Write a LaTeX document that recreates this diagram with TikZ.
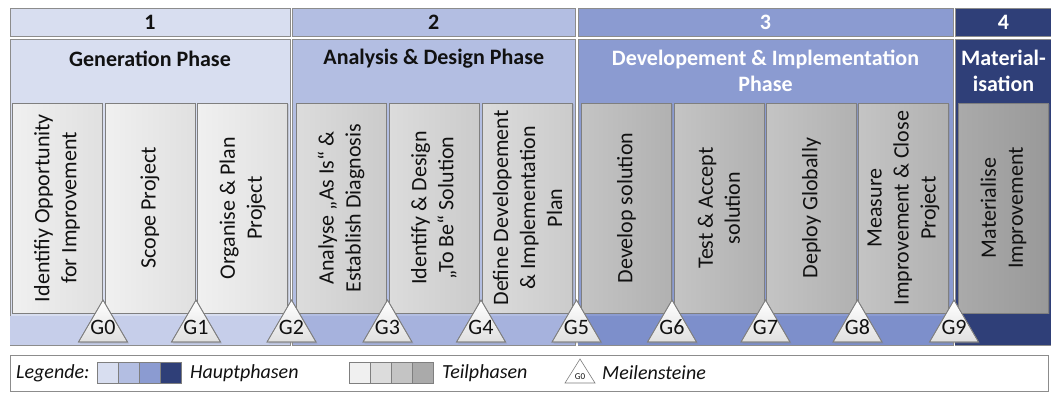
\documentclass[tikz,border=0pt]{standalone}
\usepackage{fontspec}
\setmainfont{Carlito}
\usetikzlibrary{shadows}
\definecolor{pa}{HTML}{D8DEF0}
\definecolor{pb}{HTML}{B3BEE2}
\definecolor{pc}{HTML}{8B9BD1}
\definecolor{pd}{HTML}{2F3F78}
\definecolor{pas}{HTML}{C6CEEA}
\definecolor{pbs}{HTML}{A6B2DD}
\definecolor{pcs}{HTML}{7D8FCB}
\definecolor{pds}{HTML}{2F3F78}
\definecolor{bgray}{HTML}{8C8C8C}
\definecolor{sgray}{HTML}{7F7F7F}
\definecolor{saL}{HTML}{F0F0F0}
\definecolor{saR}{HTML}{E0E0E0}
\definecolor{sbL}{HTML}{DCDCDC}
\definecolor{sbR}{HTML}{CBCBCB}
\definecolor{scL}{HTML}{C4C4C4}
\definecolor{scR}{HTML}{B1B1B1}
\definecolor{sdL}{HTML}{AAAAAA}
\definecolor{sdR}{HTML}{999999}
\definecolor{txt}{HTML}{111111}
\tikzset{
  colbox/.style={draw=bgray, line width=0.7pt},
  subbox/.style={draw=sgray, line width=0.7pt, minimum width=90pt, minimum height=210pt, inner sep=0pt,
    drop shadow={shadow xshift=1.2pt, shadow yshift=-1.2pt, opacity=0.25}},
  subtext/.style={rotate=90, align=center, inner sep=0pt, text=txt, font=\fontsize{22}{27}\selectfont},
  numtext/.style={font=\bfseries\fontsize{22}{26}\selectfont, inner sep=0pt},
  headtext/.style={font=\bfseries\fontsize{22}{26}\selectfont, align=center, inner sep=0pt},
  tri/.style={draw=sgray, line width=0.7pt, top color=white, bottom color=saR,
    drop shadow={shadow xshift=1.5pt, shadow yshift=-1.5pt, opacity=0.25}},
  trilabel/.style={font=\fontsize{22}{26}\selectfont, inner sep=0pt, text=txt},
  legtext/.style={font=\itshape\fontsize{20}{24}\selectfont, inner sep=0pt, anchor=west, text=txt},
  legsq/.style={draw=sgray, line width=0.7pt}
}
\begin{document}
\begin{tikzpicture}[x=1pt,y=-1pt]
\useasboundingbox[fill=white] (0,0) rectangle (1051,392);

% ---- number row ----
\draw[colbox, fill=pa] (10,8) rectangle (290,36);
\draw[colbox, fill=pb] (292.5,8) rectangle (575,36);
\draw[colbox, fill=pc] (578,8) rectangle (953,36);
\draw[colbox, fill=pd] (955,8) rectangle (1053,36);
\node[numtext, text=txt] (n1) at (150,22) {1};
\node[numtext, text=txt] (n2) at (433.75,22) {2};
\node[numtext, text=white] (n3) at (765.5,22) {3};
\node[numtext, text=white] (n4) at (1003.5,22) {4};

% ---- phase columns ----
\draw[colbox, fill=pa] (10,39) rectangle (290,345);
\draw[colbox, fill=pb] (292.5,39) rectangle (575,345);
\draw[colbox, fill=pc] (578,39) rectangle (953,345);
\draw[colbox, fill=pd] (955,39) rectangle (1053,345);
% bottom strips
\fill[pas] (10.4,316) rectangle (289.6,344.6);
\fill[pbs] (292.9,316) rectangle (574.6,344.6);
\fill[pcs] (578.4,316) rectangle (952.6,344.6);
\fill[pds] (955.4,316) rectangle (1052.6,344.6);

\node[headtext, text=txt] (h1) at (150,59) {Generation Phase};
\node[headtext, text=txt] (h2) at (433.75,59) {Analysis \& Design Phase};
\node[headtext, text=white] (h3) at (765.5,71) {Developement \& Implementation\\Phase};
\node[headtext, text=white] (h4) at (1003.5,71) {Material-\\isation};

% ---- sub phases ----
\node[subbox, left color=saL, right color=saR] (b1) at (57,208) {};
\node[subbox, left color=saL, right color=saR] (b2) at (150,208) {};
\node[subbox, left color=saL, right color=saR] (b3) at (242.5,208) {};
\node[subbox, left color=sbL, right color=sbR] (b4) at (341,208) {};
\node[subbox, left color=sbL, right color=sbR] (b5) at (434,208) {};
\node[subbox, left color=sbL, right color=sbR] (b6) at (527.5,208) {};
\node[subbox, left color=scL, right color=scR] (b7) at (626.5,208) {};
\node[subbox, left color=scL, right color=scR] (b8) at (719,208) {};
\node[subbox, left color=scL, right color=scR] (b9) at (811.5,208) {};
\node[subbox, left color=scL, right color=scR] (b10) at (903.5,208) {};
\node[subbox, left color=sdL, right color=sdR] (b11) at (1003.5,208) {};

\node[subtext] (t1) at (b1) {Identifiy Opportunity\\for Improvement};
\node[subtext] (t2) at (b2) {Scope Project};
\node[subtext] (t3) at (b3) {Organise \& Plan\\Project};
\node[subtext] (t4) at (b4) {Analyse „As Is“ \&\\Establish Diagnosis};
\node[subtext] (t5) at (b5) {Identify \& Design\\„To Be“ Solution};
\node[subtext] (t6) at (b6) {Define Developement\\\& Implementation\\Plan};
\node[subtext] (t7) at (b7) {Develop solution};
\node[subtext] (t8) at (b8) {Test \& Accept\\solution};
\node[subtext] (t9) at (b9) {Deploy Globally};
\node[subtext] (t10) at (b10) {Measure\\Improvement \& Close\\Project};
\node[subtext] (t11) at (b11) {Materialise\\Improvement};

% ---- milestones ----
\foreach \xx/\lab [count=\i from 0] in {103/G0,196/G1,291.5/G2,387.5/G3,481/G4,576.5/G5,672/G6,765.5/G7,857.5/G8,954/G9}{
  \path[tri] (\xx,300) -- (\xx+24.5,342) -- (\xx-24.5,342) -- cycle;
  \draw[sgray, line width=0.7pt] (\xx,300) -- (\xx+24.5,342) -- (\xx-24.5,342) -- cycle;
  \node[trilabel] (g\i) at (\xx,327.5) {\lab};
}

% ---- legend ----
\draw[colbox, fill=white, drop shadow={shadow xshift=1.2pt, shadow yshift=-1.2pt, opacity=0.2}] (10,355) rectangle (1048,391);
\node[legtext] (lg) at (16,373) {Legende:};
\draw[legsq, fill=pa] (97,362) rectangle (118,383);
\draw[legsq, fill=pb] (118,362) rectangle (139,383);
\draw[legsq, fill=pc] (139,362) rectangle (160,383);
\draw[legsq, fill=pd] (160,362) rectangle (181,383);
\node[legtext] (lh) at (190,373) {Hauptphasen};
\draw[legsq, fill=saL] (349,362) rectangle (370,383);
\draw[legsq, fill=sbL] (370,362) rectangle (391,383);
\draw[legsq, fill=scL] (391,362) rectangle (412,383);
\draw[legsq, fill=sdL] (412,362) rectangle (433,383);
\node[legtext] (lt) at (442,373) {Teilphasen};
\draw[sgray, line width=0.6pt, fill=white] (580,359) -- (595,383) -- (565,383) -- cycle;
\node[font=\fontsize{9}{10}\selectfont, inner sep=0pt, text=txt] (lg0) at (580,376.5) {G0};
\node[legtext] (lm) at (602,373) {Meilensteine};
\end{tikzpicture}
\end{document}
